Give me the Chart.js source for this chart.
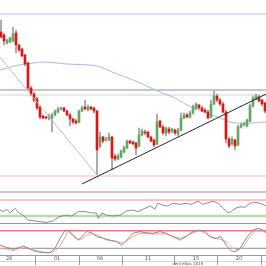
<!DOCTYPE html>
<html>
<head>
<meta charset="utf-8">
<script src="https://cdn.jsdelivr.net/npm/chart.js@4.4.0/dist/chart.umd.min.js"></script>
<style>
  html, body { margin: 0; padding: 0; background: #fff; }
  #wrap { position: relative; width: 266px; height: 266px; overflow: hidden; }
  canvas { position: absolute; left: 0; }
  .sep { position: absolute; left: 0; width: 266px; }
</style>
</head>
<body>
<div id="wrap">
  <canvas id="priceChart" width="266" height="191" style="top:0"></canvas>
  <div class="sep" style="top:191px;height:2px;background:#c8c8c8"></div>
  <canvas id="rsiChart" width="266" height="30" style="top:193px"></canvas>
  <div class="sep" style="top:223px;height:1px;background:#9a9a9a"></div>
  <canvas id="stochChart" width="266" height="42" style="top:224px"></canvas>
</div>
<script>
  // candles
  const opens = [1.1436,1.1430,1.1414,1.1416,1.1418,1.1434,1.1410,1.1402,1.1390,1.1374,
    1.1324,1.1312,1.1302,1.1286,1.1268,1.1266,1.1264,1.1264,1.1270,1.1276,
    1.1282,1.1284,1.1278,1.1270,1.1262,1.1258,1.1256,1.1278,1.1286,1.1280,
    1.1286,1.1284,1.1278,1.1208,1.1226,1.1220,1.1220,1.1226,1.1188,1.1182,
    1.1186,1.1196,1.1204,1.1218,1.1216,1.1214,1.1208,1.1230,1.1236,1.1236,
    1.1226,1.1220,1.1212,1.1258,1.1246,1.1234,1.1242,1.1238,1.1240,1.1232,
    1.1240,1.1264,1.1270,1.1266,1.1274,1.1284,1.1290,1.1284,1.1280,1.1276,
    1.1266,1.1292,1.1308,1.1300,1.1292,1.1276,1.1222,1.1212,1.1220,1.1210,
    1.1246,1.1250,1.1248,1.1258,1.1288,1.1302,1.1306,1.1300,1.1294];
  const highs = [1.1460,1.1434,1.1422,1.1426,1.1446,1.1440,1.1412,1.1404,1.1392,1.1376,
    1.1328,1.1316,1.1306,1.1290,1.1270,1.1268,1.1272,1.1274,1.1280,1.1286,
    1.1286,1.1286,1.1280,1.1274,1.1264,1.1262,1.1280,1.1288,1.1300,1.1290,
    1.1288,1.1286,1.1280,1.1236,1.1228,1.1226,1.1234,1.1228,1.1192,1.1192,
    1.1200,1.1208,1.1220,1.1220,1.1218,1.1216,1.1244,1.1242,1.1240,1.1238,
    1.1228,1.1222,1.1272,1.1260,1.1250,1.1246,1.1246,1.1244,1.1242,1.1244,
    1.1274,1.1274,1.1274,1.1278,1.1290,1.1294,1.1292,1.1288,1.1284,1.1280,
    1.1300,1.1318,1.1312,1.1304,1.1296,1.1280,1.1226,1.1226,1.1222,1.1250,
    1.1254,1.1256,1.1262,1.1292,1.1308,1.1312,1.1310,1.1302,1.1296];
  const lows = [1.1424,1.1410,1.1412,1.1414,1.1416,1.1394,1.1396,1.1386,1.1368,1.1320,
    1.1308,1.1296,1.1280,1.1262,1.1262,1.1262,1.1260,1.1236,1.1268,1.1274,
    1.1280,1.1276,1.1268,1.1248,1.1252,1.1252,1.1254,1.1276,1.1280,1.1278,
    1.1280,1.1274,1.1150,1.1204,1.1214,1.1218,1.1218,1.1160,1.1178,1.1180,
    1.1184,1.1194,1.1202,1.1212,1.1210,1.1190,1.1206,1.1228,1.1230,1.1224,
    1.1216,1.1206,1.1210,1.1244,1.1230,1.1228,1.1232,1.1234,1.1230,1.1228,
    1.1238,1.1262,1.1264,1.1264,1.1272,1.1280,1.1282,1.1276,1.1274,1.1262,
    1.1264,1.1290,1.1296,1.1288,1.1274,1.1214,1.1204,1.1210,1.1200,1.1208,
    1.1244,1.1248,1.1246,1.1256,1.1286,1.1300,1.1296,1.1288,1.1274];
  const closes = [1.1426,1.1418,1.1420,1.1424,1.1432,1.1410,1.1400,1.1388,1.1372,1.1324,
    1.1312,1.1300,1.1284,1.1266,1.1264,1.1264,1.1268,1.1270,1.1278,1.1282,
    1.1284,1.1278,1.1270,1.1262,1.1256,1.1254,1.1278,1.1284,1.1282,1.1286,
    1.1282,1.1278,1.1200,1.1226,1.1218,1.1222,1.1226,1.1184,1.1182,1.1188,
    1.1198,1.1206,1.1218,1.1214,1.1212,1.1204,1.1230,1.1238,1.1234,1.1226,
    1.1218,1.1210,1.1256,1.1246,1.1234,1.1244,1.1236,1.1242,1.1234,1.1240,
    1.1264,1.1270,1.1266,1.1274,1.1286,1.1292,1.1284,1.1278,1.1276,1.1264,
    1.1292,1.1308,1.1300,1.1292,1.1276,1.1222,1.1208,1.1222,1.1208,1.1246,
    1.1250,1.1252,1.1260,1.1288,1.1304,1.1308,1.1298,1.1292,1.1278];

  // moving average (knots: candle index, price)
  const maIdx = [-0.4, 6, 11, 14, 22, 32, 37, 44, 53, 58, 62, 66, 73, 78, 88.4];
  const maVals = [1.1360,1.1370,1.1374,1.1376,1.1372,1.1368,1.1356,1.1340,1.1316,1.1304,1.1290,1.1280,1.1264,1.1254,1.1256];

  // drawn levels and trend lines
  const priceLevels = [1.1472, 1.1320, 1.1310, 1.1148];
  const supportLine = [[27, 1.1132], [88.4, 1.1312]];
  const fanLine = [[-0.4, 1.1386], [32, 1.1150]];

  // RSI knots
  const rsiIdx = [-0.4,0.8,1.9,3,4.7,5.8,7.4,9.1,10.8,13,15.2,17.4,19.1,21.3,23.6,25.8,28,30.2,31.9,32.4,
    33.6,35.2,37.4,39.7,41.9,44,45.7,47.3,49.7,51.3,52.3,54,55.7,57.3,59.7,61.7,63.3,65.7,67.3,69,
    70.7,72.3,74,75.7,76.7,78,79.7,81.3,83,84.7,86.3,88.4];
  const rsiVals = [45,41,47,38,49,39,32,20,18,16,14,18,27,32,30,41,41,38,37,24,
    37,32,30,32,43,45,41,47,55,47,62,57,55,62,59,62,59,67,59,63,
    67,62,49,38,41,49,53,52,62,64,62,55];
  const rsiLevels = [70, 30];

  // stochastic knots
  const stochKIdx = [-0.4,1.9,4.1,6.3,7.4,9.7,11.9,14.1,16.3,18,19.7,21.3,22.4,24.1,25.8,27.4,28.6,30.2,31.9,34.1,
    36.3,38.6,40.2,41.9,44,46.3,48.3,50.7,53,55,57.3,59.7,61.7,64,66.3,68,69.7,71.7,73.3,75,
    76.7,78,79.7,81.7,84,85.7,87.3,88.4];
  const stochKVals = [31,23,17,23,28,17,8,5,5,20,54,80,82,65,48,65,77,73,60,54,
    48,43,31,48,71,77,73,71,77,71,60,48,60,77,82,77,60,54,60,31,
    11,8,20,54,82,88,82,71];
  const stochDIdx = [-0.4,1.9,4.1,6.3,8.6,10.8,14.1,16.9,19.1,20.8,22.4,24.1,26.3,28.6,30.8,33,35.2,38,40.8,42.4,
    44,46.3,48.3,50.7,53,55,57.3,59.7,61.7,64,66.3,68.3,70.7,73,75,77.3,79,80.7,83,85,
    87.3,88.4];
  const stochDVals = [20,17,12,20,23,14,7,5,20,48,77,60,48,65,71,60,48,43,37,48,
    60,71,71,69,69,69,60,54,62,73,80,69,54,51,43,20,14,25,60,82,
    82,77];
  const stochLevels = [80, 20];

  // time axis
  const dayBreaks = [11.33, 26, 40.33, 57.67, 72, 86.67];
  const dayLabels = ['28', '01', '06', '11', '15', '20'];
  const dayLabelAt = [2.7, 18.7, 33, 49, 65, 79.3];
  const monthLabel = 'сентябрь 2015';

  const xMin = -1 / 3, xMax = 88 + 1 / 3;
  const green = '#62a862', red = '#e01414';

  function knots(xs, ys) {
    return xs.map((x, i) => ({x: x, y: ys[i]}));
  }

  function hLine(v, color, w, order) {
    return {
      type: 'line',
      data: [{x: xMin, y: v}, {x: xMax, y: v}],
      borderColor: color,
      borderWidth: w,
      pointRadius: 0,
      order: order || 10
    };
  }

  function line(pts, color, w, order, tension) {
    return {
      type: 'line',
      data: pts,
      borderColor: color,
      borderWidth: w,
      pointRadius: 0,
      tension: tension || 0,
      order: order
    };
  }

  const baseOptions = (ymin, ymax) => ({
    responsive: false,
    animation: false,
    devicePixelRatio: 1,
    events: [],
    layout: {padding: 0},
    plugins: {legend: {display: false}, tooltip: {enabled: false}},
    scales: {
      x: {type: 'linear', min: xMin, max: xMax, offset: false, display: false},
      y: {min: ymin, max: ymax, display: false}
    }
  });

  // price panel
  new Chart(document.getElementById('priceChart'), {
    type: 'bar',
    data: {
      datasets: [
        hLine(priceLevels[0], '#dcdcf8', 2),
        hLine(priceLevels[1], '#b4b4b4', 1.5),
        hLine(priceLevels[2], '#c6dcc0', 1),
        hLine(priceLevels[3], '#f8c0c0', 1),
        line(knots(maIdx, maVals), '#a8b8f0', 1, 8, 0.4),
        {
          data: lows.map((l, i) => ({x: i, y: [l, highs[i]]})),
          backgroundColor: '#9a9a9a',
          barThickness: 1,
          grouped: false,
          order: 4
        },
        {
          data: opens.map((o, i) => ({x: i, y: [o, closes[i]]})),
          backgroundColor: opens.map((o, i) => closes[i] >= o ? green : red),
          barThickness: 2,
          minBarLength: 1,
          grouped: false,
          order: 3
        },
        line(fanLine.map(p => ({x: p[0], y: p[1]})), '#bdbdbd', 1, 2),
        line(supportLine.map(p => ({x: p[0], y: p[1]})), '#262626', 1, 1)
      ]
    },
    options: baseOptions(1.1118, 1.15)
  });

  // RSI panel
  new Chart(document.getElementById('rsiChart'), {
    type: 'line',
    data: {
      datasets: [
        hLine(rsiLevels[0], '#f08a8a', 1),
        hLine(rsiLevels[1], '#b8dcb0', 2.5),
        line(knots(rsiIdx, rsiVals), '#8c8c8c', 1, 1)
      ]
    },
    options: baseOptions(12.5, 87.5)
  });

  // stochastic panel + time axis row
  const timeRow = {
    id: 'timeRow',
    afterDraw(chart) {
      const ctx = chart.ctx;
      const xs = chart.scales.x;
      const top = chart.chartArea.bottom;
      ctx.save();
      ctx.lineWidth = 1;
      ctx.strokeStyle = '#9a9a9a';
      ctx.beginPath();
      ctx.moveTo(0, top + 0.5);
      ctx.lineTo(chart.width, top + 0.5);
      ctx.stroke();
      ctx.strokeStyle = '#d4d4d4';
      ctx.beginPath();
      ctx.moveTo(0, top + 6.5);
      ctx.lineTo(chart.width, top + 6.5);
      ctx.stroke();
      ctx.strokeStyle = '#9a9a9a';
      dayBreaks.forEach(b => {
        const px = Math.round(xs.getPixelForValue(b)) + 0.5;
        ctx.beginPath();
        ctx.moveTo(px, top);
        ctx.lineTo(px, top + 10);
        ctx.stroke();
      });
      ctx.fillStyle = '#555';
      ctx.textAlign = 'center';
      ctx.textBaseline = 'middle';
      ctx.font = '5px "DejaVu Sans"';
      dayLabels.forEach((t, i) => ctx.fillText(t, xs.getPixelForValue(dayLabelAt[i]), top + 3.5));
      ctx.font = '4px "DejaVu Sans"';
      ctx.fillText(monthLabel, xs.getPixelForValue(62.3), top + 8.5);
      ctx.restore();
    }
  };

  const stochOpts = baseOptions(-2.9, 102.8);
  stochOpts.layout = {padding: {bottom: 11}};
  new Chart(document.getElementById('stochChart'), {
    type: 'line',
    data: {
      datasets: [
        hLine(stochLevels[0], '#f07878', 1.5),
        hLine(stochLevels[1], '#8c8c8c', 1),
        line(knots(stochDIdx, stochDVals), '#f4a0a0', 1, 2),
        line(knots(stochKIdx, stochKVals), '#8c8c8c', 1, 1)
      ]
    },
    options: stochOpts,
    plugins: [timeRow]
  });
</script>
</body>
</html>
